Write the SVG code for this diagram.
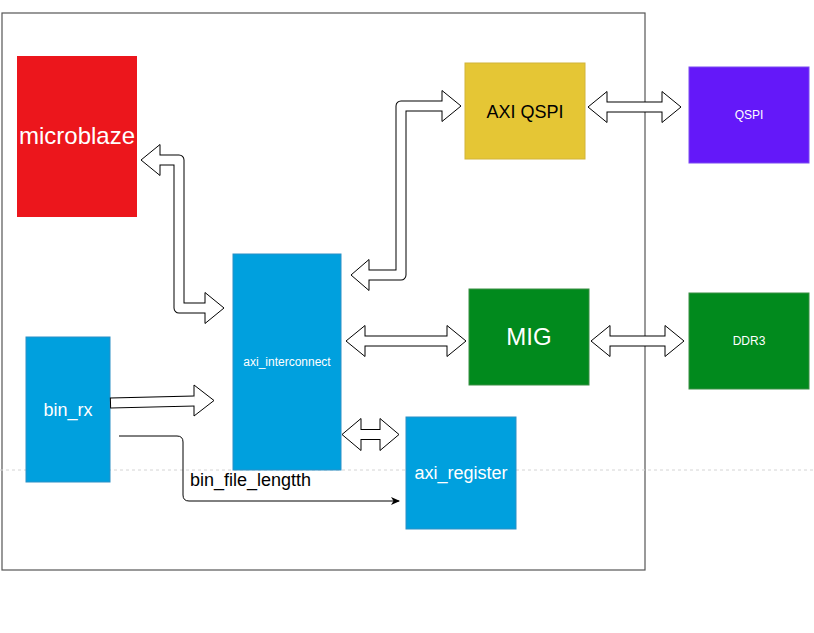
<svg xmlns="http://www.w3.org/2000/svg" width="814" height="633" viewBox="0 0 814 633">
<defs>
<style>
text{font-family:"Liberation Sans",Arial,sans-serif;text-anchor:middle}
.w{fill:#fff}
.blue{fill:#00A0DE;stroke:#2A90C6;stroke-width:1}
.green{fill:#018A1D;stroke:#3B8F45;stroke-width:1}
.sb{fill:none;stroke:#000;stroke-width:11;stroke-linejoin:round}
.sw{fill:none;stroke:#fff;stroke-width:9;stroke-linejoin:round}
.hd{fill:#fff;stroke:#000;stroke-width:1;stroke-linejoin:miter}
</style>
<marker id="ar" markerWidth="10" markerHeight="10" refX="8" refY="5" orient="auto" markerUnits="userSpaceOnUse">
<path d="M0,1 L9,5 L0,9 L2.5,5 Z" fill="#000"/>
</marker>
</defs>
<rect width="814" height="633" fill="#fff"/>
<rect id="container" x="2" y="13" width="643" height="557" fill="none" stroke="#555" stroke-width="1.2"/>
<line x1="0" y1="470" x2="814" y2="470" stroke="#d4d4d4" stroke-width="1" stroke-dasharray="3 3"/>

<g id="microblaze">
<rect x="17" y="56" width="120" height="161" fill="#EC161C"/>
<text class="w" x="77" y="144" font-size="24">microblaze</text>
</g>
<g id="axi_qspi">
<rect x="465" y="63" width="120" height="96" fill="#E5C635" stroke="#D2B43A" stroke-width="1"/>
<text x="525" y="118" font-size="18" fill="#000">AXI QSPI</text>
</g>
<g id="qspi">
<rect x="689" y="67" width="120" height="96" fill="#6418F9" stroke="#7A4AF0" stroke-width="1"/>
<text class="w" x="749" y="119" font-size="12">QSPI</text>
</g>
<g id="axi_interconnect">
<rect class="blue" x="233" y="254" width="108" height="216"/>
<text class="w" x="287" y="366" font-size="12">axi_interconnect</text>
</g>
<g id="mig">
<rect class="green" x="469" y="289" width="120" height="96"/>
<text class="w" x="529" y="345" font-size="24">MIG</text>
</g>
<g id="ddr3">
<rect class="green" x="689" y="293" width="120" height="96"/>
<text class="w" x="749" y="345" font-size="12">DDR3</text>
</g>
<g id="bin_rx">
<rect class="blue" x="26" y="337" width="84" height="145"/>
<text class="w" x="68" y="416" font-size="18">bin_rx</text>
</g>
<g id="axi_register">
<rect class="blue" x="406" y="417" width="110" height="112"/>
<text class="w" x="461" y="479" font-size="18">axi_register</text>
</g>

<g id="connectors">
<!-- microblaze <-> interconnect -->
<path class="sb" d="M160,160 H179 V308 H205"/>
<polygon class="hd" points="160,144.5 141,160 160,175.5"/>
<polygon class="hd" points="205,292.5 224,308 205,323.5"/>
<path class="sw" d="M159,160 H179 V308 H206"/>
<!-- interconnect <-> AXI QSPI -->
<path class="sb" d="M369,275 H401 V106 H442"/>
<polygon class="hd" points="369,259.5 351,275 369,290.5"/>
<polygon class="hd" points="442,90.5 461,106 442,121.5"/>
<path class="sw" d="M368,275 H401 V106 H443"/>
<!-- interconnect <-> MIG -->
<path class="sb" d="M365,341 H447"/>
<polygon class="hd" points="365,325.5 346,341 365,356.5"/>
<polygon class="hd" points="447,325.5 466,341 447,356.5"/>
<path class="sw" d="M364,341 H448"/>
<!-- MIG <-> DDR3 -->
<path class="sb" d="M610,341 H665"/>
<polygon class="hd" points="610,325.5 591,341 610,356.5"/>
<polygon class="hd" points="665,325.5 684,341 665,356.5"/>
<path class="sw" d="M609,341 H666"/>
<!-- AXI QSPI <-> QSPI -->
<path class="sb" d="M607,107 H662"/>
<polygon class="hd" points="607,91.5 588,107 607,122.5"/>
<polygon class="hd" points="662,91.5 681,107 662,122.5"/>
<path class="sw" d="M606,107 H663"/>
<!-- interconnect <-> axi_register -->
<path class="sb" d="M361,434.5 H380"/>
<polygon class="hd" points="361,418.5 342,434.5 361,450.5"/>
<polygon class="hd" points="380,418.5 399,434.5 380,450.5"/>
<path class="sw" d="M360,434.5 H381"/>
<!-- bin_rx -> interconnect -->
<path class="sb" d="M110,403 L194,401"/>
<polygon class="hd" points="194,385 214,400.5 194,416"/>
<path class="sw" d="M111,403 L195,401"/>
<!-- bin_rx -> axi_register -->
<path d="M119,436 H177 Q183,436 183,442 V495 Q183,501 189,501 H399" fill="none" stroke="#000" stroke-width="1" marker-end="url(#ar)"/>
<text x="190" y="486" font-size="18" fill="#000" style="text-anchor:start">bin_file_lengtth</text>
</g>
</svg>
